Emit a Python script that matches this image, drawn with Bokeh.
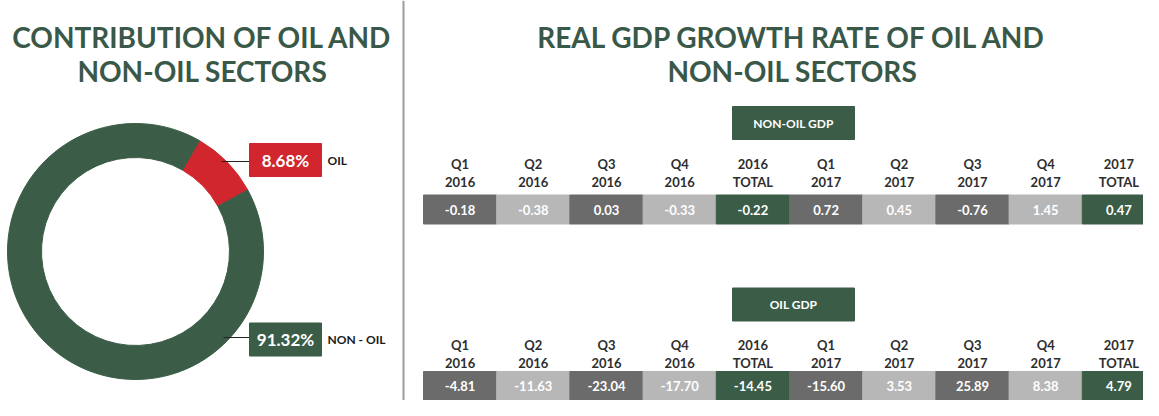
import math
from bokeh.plotting import figure
from bokeh.models import Range1d, ColumnDataSource
from bokeh.core.properties import value
from bokeh.embed import file_html
from bokeh.resources import INLINE

# ---------------- data ----------------
sectors = ["OIL", "NON - OIL"]
shares = [8.68, 91.32]
sector_colors = ["#d1262e", "#3b5d47"]

periods_top = ["Q1", "Q2", "Q3", "Q4", "2016", "Q1", "Q2", "Q3", "Q4", "2017"]
periods_bottom = ["2016", "2016", "2016", "2016", "TOTAL", "2017", "2017", "2017", "2017", "TOTAL"]
non_oil_growth = [-0.18, -0.38, 0.03, -0.33, -0.22, 0.72, 0.45, -0.76, 1.45, 0.47]
oil_growth = [-4.81, -11.63, -23.04, -17.70, -14.45, -15.60, 3.53, 25.89, 8.38, 4.79]

# ---------------- styling ----------------
GREEN = "#3b5d47"
TITLE_GREEN = "#3a5848"
DARK_GRAY = "#6b6b6b"
LIGHT_GRAY = "#b7b7b7"
FONT = value("Lato")

W, H = 1143, 400
PAGE_H = 416


def Y(y):
    return PAGE_H - y


p = figure(width=W, height=H, x_range=Range1d(0, W), y_range=Range1d(PAGE_H - H, PAGE_H),
           output_backend="svg", toolbar_location=None,
           x_axis_location=None, y_axis_location=None, min_border=0)
p.grid.visible = False
p.outline_line_color = None
p.background_fill_color = "white"
p.border_fill_color = "white"

# ---------------- titles ----------------
for cx, lines in [(202, ["CONTRIBUTION OF OIL AND", "NON-OIL SECTORS"]),
                  (792, ["REAL GDP GROWTH RATE OF OIL AND", "NON-OIL SECTORS"])]:
    p.text(x=[cx, cx], y=[Y(36), Y(70)], text=lines, text_font=FONT, text_font_style="bold",
           text_font_size=value("28px"), text_color=TITLE_GREEN, text_align="center",
           text_baseline="alphabetic")

# separator
p.segment(x0=[403], y0=[Y(0)], x1=[403], y1=[Y(416)], line_color="#9c9c9c", line_width=2)

# ---------------- donut ----------------
cx, cy, r_in, r_out = 135, 251, 94, 128
start_cw = 30.0
starts, ends = [], []
for s in shares:
    end_cw = start_cw + s * 3.6
    starts.append(math.radians(90 - end_cw))
    ends.append(math.radians(90 - start_cw))
    start_cw = end_cw
donut = ColumnDataSource(dict(sector=sectors, share=shares, start=starts, end=ends, color=sector_colors))
p.annular_wedge(x=cx, y=Y(cy), inner_radius=r_in, outer_radius=r_out, start_angle="start",
                end_angle="end", color="color", source=donut)

# labels
label_y = [159.5, 339]
leader_y = [161, 337]
leader_x0 = [221, 223]
for i, (name, share) in enumerate(zip(sectors, shares)):
    p.segment(x0=[leader_x0[i]], y0=[Y(leader_y[i])], x1=[249], y1=[Y(leader_y[i])],
              line_color="#222222", line_width=1)
    p.rect(x=[285], y=[Y(label_y[i])], width=72, height=33, color=sector_colors[i])
    p.text(x=[285], y=[Y(label_y[i])], text=[f"{share:.2f}%"], text_font=FONT, text_font_style="bold",
           text_font_size=value("17px"), text_color="white", text_align="center", text_baseline="middle")
    p.text(x=[327], y=[Y(label_y[i])], text=[name], text_font=FONT, text_font_style="bold",
           text_font_size=value("12px"), text_color="#1a1a1a", text_align="left", text_baseline="middle")

# ---------------- tables ----------------
col_left, col_w = 423, 73.2
n = len(periods_top)
xs = [col_left + col_w * (i + 0.5) for i in range(n)]
cell_colors = []
k = 0
for b in periods_bottom:
    if b == "TOTAL":
        cell_colors.append(GREEN)
        k = 0
    else:
        cell_colors.append(DARK_GRAY if k % 2 == 0 else LIGHT_GRAY)
        k += 1

tables = [("NON-OIL GDP", non_oil_growth, 122.5, 163, 181, 209),
          ("OIL GDP", oil_growth, 304, 344, 362, 385.5)]
for title, vals, badge_y, h1, h2, vy in tables:
    p.rect(x=[793], y=[Y(badge_y)], width=122, height=33, color=GREEN)
    p.text(x=[793], y=[Y(badge_y)], text=[title], text_font=FONT, text_font_style="bold",
           text_font_size=value("12px"), text_color="white", text_align="center", text_baseline="middle")
    src = ColumnDataSource(dict(x=xs, top=periods_top, bottom=periods_bottom,
                                label=[f"{v:.2f}" for v in vals], color=cell_colors))
    p.text(x="x", y=Y(h1), text="top", source=src, text_font=FONT, text_font_style="bold",
           text_font_size=value("13px"), text_color="#2e2e2e", text_align="center", text_baseline="middle")
    p.text(x="x", y=Y(h2), text="bottom", source=src, text_font=FONT, text_font_style="bold",
           text_font_size=value("13px"), text_color="#2e2e2e", text_align="center", text_baseline="middle")
    p.rect(x="x", y=Y(vy), width=col_w, height=29, color="color", source=src)
    p.text(x="x", y=Y(vy), text="label", source=src, text_font=FONT, text_font_style="bold",
           text_font_size=value("13px"), text_color="white", text_align="center", text_baseline="middle")

open("out.html", "w").write(file_html(p, INLINE))
